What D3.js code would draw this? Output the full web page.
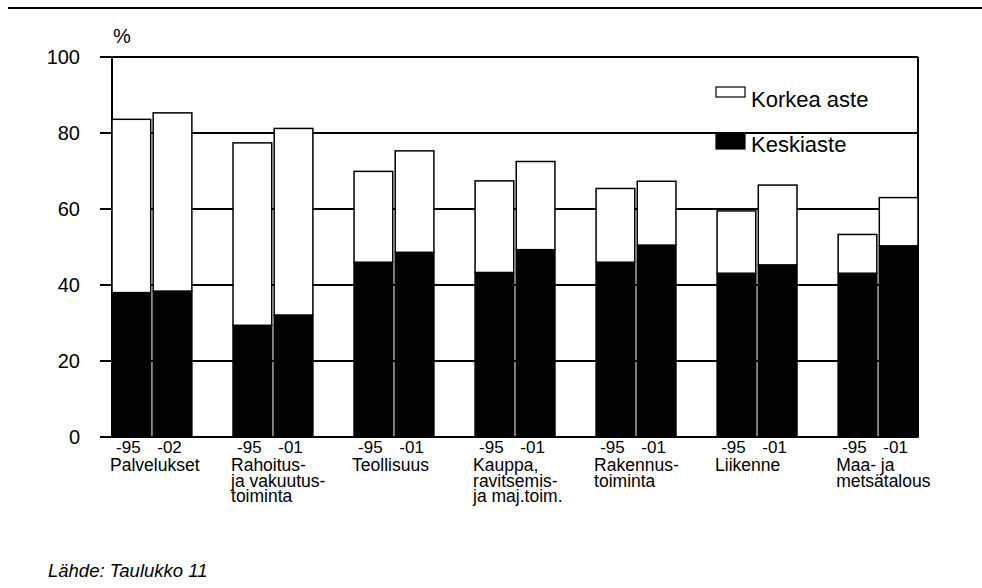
<!DOCTYPE html>
<html lang="fi">
<head>
<meta charset="UTF-8">
<script src="https://d3js.org/d3.v7.min.js" charset="utf-8"></script>
<title>Korkea aste / Keskiaste</title>
<style>
    body { margin: 0; background: #fff; }
    svg text { font-family: "Liberation Sans", Arial, sans-serif; fill: #000; }
</style>
</head>
<body>
<div id="chart"></div>
<script>
    // sector names (one entry per line of the label)
    const sectors = [
        ["Palvelukset"],
        ["Rahoitus-", "ja vakuutus-", "toiminta"],
        ["Teollisuus"],
        ["Kauppa,", "ravitsemis-", "ja maj.toim."],
        ["Rakennus-", "toiminta"],
        ["Liikenne"],
        ["Maa- ja", "metsätalous"]
    ];
    const years = [["-95", "-02"], ["-95", "-01"], ["-95", "-01"], ["-95", "-01"],
                   ["-95", "-01"], ["-95", "-01"], ["-95", "-01"]];
    // %, two bars per sector in the order above
    const keskiaste = [38.0, 38.4, 29.4, 32.1, 46.0, 48.6, 43.3, 49.3, 46.0, 50.5, 43.1, 45.3, 43.1, 50.3];
    const korkeaAste = [45.6, 46.9, 48.0, 49.1, 23.9, 26.7, 24.1, 23.2, 19.4, 16.8, 16.4, 21.0, 10.2, 12.7];
    const yTicks = [0, 20, 40, 60, 80, 100];
    const seriesNames = ["Keskiaste", "Korkea aste"];

    const width = 982, height = 588;
    const margin = {left: 112, right: 64, top: 57, bottom: 151};
    const plotW = width - margin.left - margin.right;
    const plotH = height - margin.top - margin.bottom;

    const rows = [];
    sectors.forEach((s, i) => {
        years[i].forEach((yr, j) => {
            const k = i * 2 + j;
            rows.push({sector: i, year: yr, slot: j, Keskiaste: keskiaste[k], "Korkea aste": korkeaAste[k]});
        });
    });
    const stacked = d3.stack().keys(seriesNames)(rows);

    const svg = d3.select("#chart").append("svg")
        .attr("width", width)
        .attr("height", height);

    // top rule
    svg.append("line")
        .attr("x1", 8).attr("x2", width)
        .attr("y1", 8).attr("y2", 8)
        .attr("stroke", "#000").attr("stroke-width", 2);

    const g = svg.append("g").attr("transform", `translate(${margin.left},${margin.top})`);

    const x0 = d3.scaleBand().domain(d3.range(sectors.length)).range([0, plotW])
        .paddingInner(0.34).paddingOuter(0);
    const x1 = d3.scaleBand().domain([0, 1]).range([0, x0.bandwidth()]).paddingInner(0.06);
    const y = d3.scaleLinear().domain([0, 100]).range([plotH, 0]);

    // gridlines + tick marks
    g.selectAll(".grid").data(yTicks).join("line")
        .attr("class", "grid")
        .attr("x1", -12).attr("x2", plotW)
        .attr("y1", d => y(d)).attr("y2", d => y(d))
        .attr("stroke", "#000").attr("stroke-width", 2);

    g.selectAll(".ytick").data(yTicks).join("text")
        .attr("class", "ytick")
        .attr("x", -32).attr("y", d => y(d))
        .attr("dy", "0.35em")
        .attr("text-anchor", "end")
        .attr("font-size", 20)
        .text(d => d);

    g.append("text").attr("x", 1).attr("y", -14).attr("font-size", 20).text("%");

    // left axis & right frame
    g.append("line").attr("x1", 0).attr("x2", 0).attr("y1", 0).attr("y2", plotH)
        .attr("stroke", "#000").attr("stroke-width", 2);
    g.append("line").attr("x1", plotW).attr("x2", plotW).attr("y1", 0).attr("y2", plotH)
        .attr("stroke", "#000").attr("stroke-width", 2);

    const fills = {"Keskiaste": "#000", "Korkea aste": "#fff"};

    g.selectAll(".series").data(stacked).join("g")
        .attr("class", "series")
        .attr("fill", d => fills[d.key])
        .selectAll("rect").data(d => d).join("rect")
        .attr("x", d => x0(d.data.sector) + x1(d.data.slot))
        .attr("width", x1.bandwidth())
        .attr("y", d => y(d[1]))
        .attr("height", d => y(d[0]) - y(d[1]))
        .attr("stroke", "#000")
        .attr("stroke-width", 1.5);

    // year labels under bars
    g.selectAll(".year").data(rows).join("text")
        .attr("class", "year")
        .attr("x", d => x0(d.sector) + x1(d.slot) + x1.bandwidth() / 2 - 3)
        .attr("y", plotH + 16)
        .attr("text-anchor", "middle")
        .attr("font-size", 17)
        .text(d => d.year);

    // sector labels
    const lab = g.selectAll(".sector").data(sectors).join("text")
        .attr("class", "sector")
        .attr("font-size", 17.5)
        .attr("x", (d, i) => x0(i) - 2)
        .attr("y", plotH + 34);
    lab.selectAll("tspan").data(d => d).join("tspan")
        .attr("x", function () { return this.parentNode.getAttribute("x"); })
        .attr("dy", (d, i) => i === 0 ? 0 : 15.5)
        .text(d => d);

    // legend
    const legend = g.append("g").attr("transform", `translate(${plotW - 202},0)`);
    const legItems = [
        {name: "Korkea aste", boxY: 30, boxH: 10, textY: 50},
        {name: "Keskiaste", boxY: 77, boxH: 15, textY: 95}
    ];
    legItems.forEach(it => {
        legend.append("rect").attr("x", 0).attr("y", it.boxY).attr("width", 29).attr("height", it.boxH)
            .attr("fill", fills[it.name]).attr("stroke", "#000").attr("stroke-width", 1.2);
        legend.append("text").attr("x", 35).attr("y", it.textY).attr("font-size", 22).text(it.name);
    });

    // source
    svg.append("text")
        .attr("x", 48).attr("y", 577)
        .attr("font-size", 18.5)
        .attr("font-style", "italic")
        .text("Lähde: Taulukko 11");
</script>
</body>
</html>
